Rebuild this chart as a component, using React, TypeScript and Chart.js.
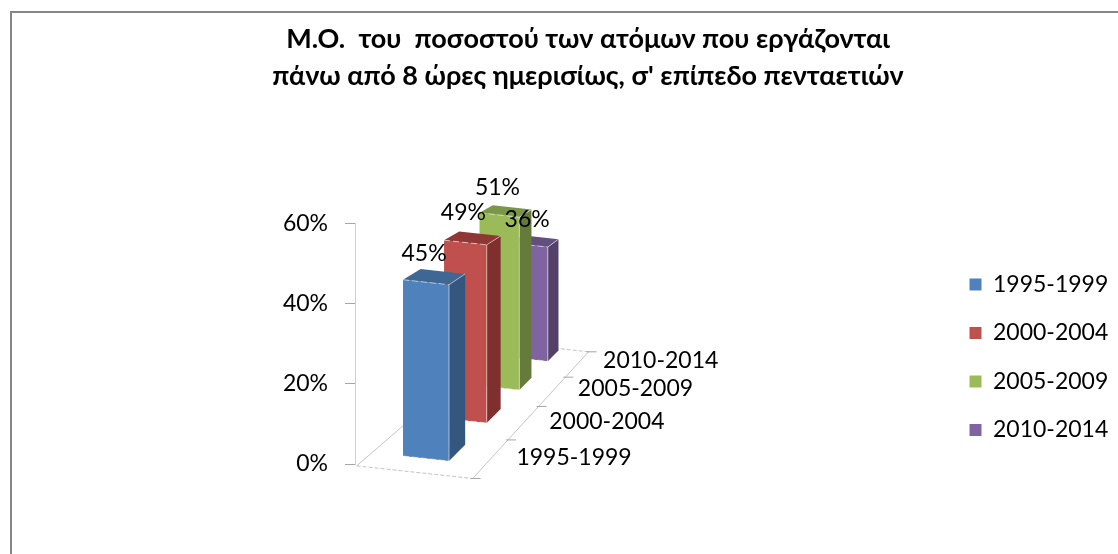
import React, { useEffect, useRef } from "react";
import { Chart, registerables } from "chart.js";

Chart.register(...registerables);

const categories = ["1995-1999", "2000-2004", "2005-2009", "2010-2014"];
const seriesValues = [45, 49, 51, 36];
const tickLabelStep = 20;
const axisMax = 60;
const titleLines = [
  "Μ.Ο.  του  ποσοστού των ατόμων που εργάζονται",
  "πάνω από 8 ώρες ημερισίως, σ' επίπεδο πενταετιών",
];
const frontColors = ["#4F81BD", "#C0504D", "#9BBB59", "#8064A2"];
const sideColors = ["#34567F", "#7F2F2D", "#667B3B", "#54416A"];
const topColors = ["#3E6794", "#8E3735", "#7B9647", "#644E7E"];
const labelNudges = [1, 0, 3, 5];

const FONT = "Lato, Carlito, 'Noto Sans', sans-serif";
const FS = 23;
const VX = 970, VY = -65, K = 0.078, SLOPE = 0.109, DEPTH = 0.41;
const HEIGHT_RATIO = 0.982, GROUND_LIFT = 8, DX = -2.6;
const FLOOR_Z0 = -0.32, FLOOR_STEP = 0.955;

function projector(chart: any) {
  const y0 = chart.scales.y.getPixelForValue(0);
  const el = chart.getDatasetMeta(0).data[0];
  const X0 = el.x - el.width / 2 + DX;
  const P = (X: number, h: number, z: number): [number, number] => {
    const s = 1 / (1 + K * z);
    const g = y0 - GROUND_LIFT + SLOPE * (X - X0);
    return [VX + (X - VX) * s, VY + (g - h - VY) * s];
  };
  return { P, X0 };
}

function poly(ctx: CanvasRenderingContext2D, pts: [number, number][], fill: string) {
  ctx.beginPath();
  pts.forEach((p, i) => (i ? ctx.lineTo(p[0], p[1]) : ctx.moveTo(p[0], p[1])));
  ctx.closePath();
  ctx.fillStyle = fill;
  ctx.fill();
}

function seg(ctx: CanvasRenderingContext2D, a: [number, number], b: [number, number], color: string, w = 1, dash: number[] = []) {
  ctx.save();
  ctx.beginPath();
  ctx.setLineDash(dash);
  ctx.moveTo(a[0], a[1]);
  ctx.lineTo(b[0], b[1]);
  ctx.strokeStyle = color;
  ctx.lineWidth = w;
  ctx.stroke();
  ctx.restore();
}

const scene3d = {
  id: "scene3d",
  beforeDraw(chart: any) {
    const ctx = chart.ctx;
    ctx.save();
    ctx.fillStyle = "#fff";
    ctx.fillRect(0, 0, chart.width, chart.height);
    ctx.strokeStyle = "#868686";
    ctx.lineWidth = 2;
    ctx.strokeRect(11, 12, chart.width + 20, chart.height + 20);
    ctx.restore();
  },
  beforeDatasetsDraw(chart: any) {
    const ctx = chart.ctx;
    const { P, X0 } = projector(chart);
    const XL = X0 - 31, XR = X0 + 82;
    const zBack = FLOOR_Z0 + FLOOR_STEP * categories.length - 0.02;
    const FL = P(XL, 0, FLOOR_Z0), FR = P(XR, 0, FLOOR_Z0), BR = P(XR, 0, zBack), BL = P(XL, 0, zBack);
    const c = "#c4c4c4";
    seg(ctx, FL, FR, c, 1, [4, 2]);
    seg(ctx, FR, BR, c, 1);
    seg(ctx, BR, BL, c, 1, [4, 2]);
    seg(ctx, FL, BL, c, 1);
    for (let i = 0; i <= categories.length; i++) {
      const p = P(XR, 0, FLOOR_Z0 + FLOOR_STEP * i - (i === categories.length ? 0.02 : 0));
      seg(ctx, [p[0] - 2, p[1]], [p[0] + 8, p[1]], "#a6a6a6", 1);
    }
  },
  beforeDatasetDraw(chart: any, args: any) {
    const ctx = chart.ctx;
    const i = args.index;
    const el = args.meta.data[0];
    const { P, X0 } = projector(chart);
    const L = X0, R = X0 + el.width;
    const h = (el.base - el.y) * HEIGHT_RATIO;
    const z = i, z2 = i + DEPTH;
    poly(ctx, [P(L, 0, z), P(R, 0, z), P(R, h, z), P(L, h, z)], frontColors[i]);
    poly(ctx, [P(R, 0, z), P(R, 0, z2), P(R, h, z2), P(R, h, z)], sideColors[i]);
    poly(ctx, [P(L, h, z), P(R, h, z), P(R, h, z2), P(L, h, z2)], topColors[i]);
    const hl = "rgba(255,255,255,0.55)";
    seg(ctx, P(R, 0, z), P(R, h, z), hl, 1);
    seg(ctx, P(L, h, z), P(R, h, z), hl, 1, [6, 3]);
    seg(ctx, P(R, h, z), P(R, h, z2), hl, 1);
    seg(ctx, P(L, 0, z), P(R, 0, z), hl, 1, [6, 3]);
    return false;
  },
  afterDatasetsDraw(chart: any) {
    const ctx = chart.ctx;
    const { P, X0 } = projector(chart);
    ctx.save();
    ctx.font = `${FS}px ${FONT}`;
    ctx.fillStyle = "#000";
    ctx.textBaseline = "middle";
    ctx.textAlign = "center";
    chart.data.datasets.forEach((ds: any, i: number) => {
      const el = chart.getDatasetMeta(i).data[0];
      const h = (el.base - el.y) * HEIGHT_RATIO;
      const a = P(X0, h, i), b = P(X0 + el.width, h, i);
      ctx.fillText(`${seriesValues[i]}%`, (a[0] + b[0]) / 2 - 2, (a[1] + b[1]) / 2 - 30 + labelNudges[i]);
    });
    ctx.textAlign = "left";
    categories.forEach((label, i) => {
      const p = P(X0 + 82, 0, FLOOR_Z0 + FLOOR_STEP * (i + 0.5));
      ctx.fillText(label, p[0] + 25.5, p[1] - 2 + (1.5 - i));
    });
    ctx.restore();
  },
};

export default function App() {
  const ref = useRef<HTMLCanvasElement>(null);
  useEffect(() => {
    const chart = new Chart(ref.current!, {
      type: "bar",
      data: {
        labels: categories,
        datasets: categories.map((name, i) => ({
          label: name,
          data: [seriesValues[i]],
          backgroundColor: frontColors[i],
          borderWidth: 0,
          grouped: false,
          barThickness: 46,
        })),
      },
      plugins: [scene3d],
      options: {
        responsive: false,
        animation: false,
        layout: { padding: { left: 58, top: 14, right: 0, bottom: 87 } },
        plugins: {
          tooltip: { enabled: false },
          title: {
            display: true,
            text: titleLines,
            color: "#000",
            font: { family: FONT, size: 27, weight: "bold", lineHeight: 1.37 },
            padding: { top: 7, bottom: 129 },
          },
          legend: {
            position: "right",
            align: "end",
            maxWidth: 174,
            labels: {
              color: "#000",
              boxWidth: 12,
              boxHeight: 12,
              padding: 25.5,
              font: { family: FONT, size: FS },
            },
          },
        },
        scales: {
          x: {
            display: true,
            grid: { display: false },
            border: { display: false },
            ticks: { display: false },
            afterFit: (axis: any) => {
              axis.height = 3;
            },
          },
          y: {
            min: 0,
            max: axisMax,
            afterFit: (axis: any) => {
              axis.width = 297;
            },
            border: { color: "#cfcfcf", width: 1 },
            grid: { drawOnChartArea: false, tickLength: 10, tickColor: "#a6a6a6" },
            ticks: {
              stepSize: tickLabelStep,
              padding: 17,
              color: "#000",
              font: { family: FONT, size: FS },
              callback: (v: any) => `${v}%`,
            },
          },
        },
      },
    } as any);
    return () => chart.destroy();
  }, []);
  return (
    <canvas
      ref={ref}
      width={1118}
      height={554}
      style={{ position: "fixed", left: 0, top: 0, display: "block" }}
    />
  );
}
